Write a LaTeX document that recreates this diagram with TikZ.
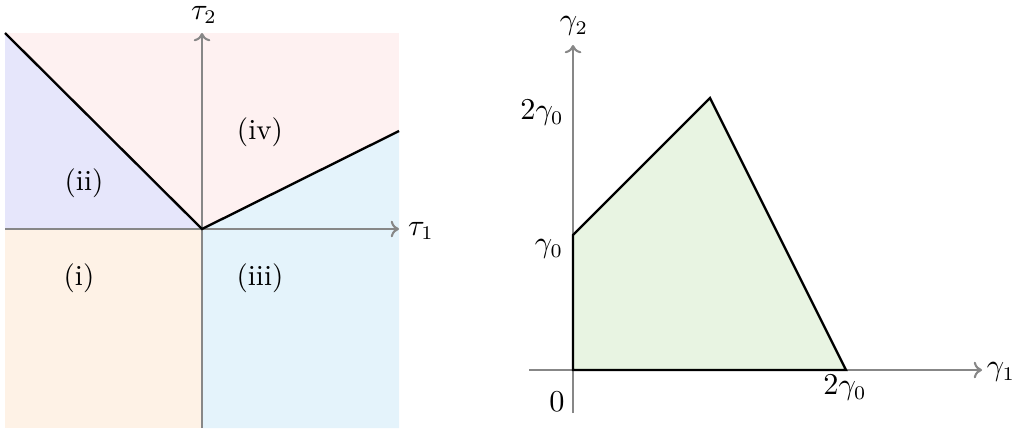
\documentclass[tikz,border=0pt]{standalone}
\usetikzlibrary{arrows.meta}
\definecolor{regi}{RGB}{254,242,230}
\definecolor{regii}{RGB}{230,230,251}
\definecolor{regiii}{RGB}{228,243,251}
\definecolor{regiv}{RGB}{254,241,241}
\definecolor{feas}{RGB}{232,244,226}
\definecolor{axgray}{RGB}{135,135,135}
\tikzset{
  axis/.style={draw=axgray, line width=0.75pt, -{To[length=3pt,width=6pt]}},
  bound/.style={draw=black, line width=0.85pt},
  lbl/.style={inner sep=0pt, font=\fontsize{10.5}{12}\selectfont},
}
\begin{document}
\begin{tikzpicture}[x=0.01269cm, y=-0.01269cm]
\useasboundingbox (0,0) rectangle (1020,428);
% left panel regions
\fill[regiv] (5,33) rectangle (399,229);
\fill[regii] (5,33) -- (202,229) -- (5,229) -- cycle;
\fill[regi] (5,229) rectangle (202,428);
\fill[regiii] (202,229) -- (399,131) -- (399,428) -- (202,428) -- cycle;
% axes
\coordinate (o) at (202,229);
\coordinate (xl) at (5,229);
\coordinate (xr) at (399,229);
\coordinate (yb) at (202,428);
\coordinate (yt) at (202,33);
\draw[axis] (xl) -- (xr);
\draw[axis] (yb) -- (yt);
\node[lbl] (tau1) at (421,231) {$\tau_1$};
\node[lbl] (tau2) at (204,15) {$\tau_2$};
% boundaries
\coordinate (tl) at (5,33);
\coordinate (rr) at (399,131);
\draw[bound] (tl) -- (o) -- (rr);
% region labels
\node[lbl] (ii) at (84,183) {(ii)};
\node[lbl] (iv) at (260,132) {(iv)};
\node[lbl] (i) at (79,278) {(i)};
\node[lbl] (iii) at (260,278) {(iii)};
% right panel
\coordinate (O) at (573,370);
\coordinate (A) at (573,235);
\coordinate (B) at (710,98);
\coordinate (C) at (846,370);
\fill[feas] (O) -- (A) -- (B) -- (C) -- cycle;
\coordinate (gxl) at (529,370);
\coordinate (gxr) at (982,370);
\coordinate (gyb) at (573,413);
\coordinate (gyt) at (573,45);
\draw[axis] (gxl) -- (gxr);
\draw[axis] (gyb) -- (gyt);
\draw[bound] (O) -- (A) -- (B) -- (C) -- cycle;
\node[lbl] (g1) at (1001,372) {$\gamma_1$};
\node[lbl] (g2) at (574,26) {$\gamma_2$};
\node[lbl] (l2g) at (542,113) {$2\gamma_0$};
\node[lbl] (lg) at (549,249) {$\gamma_0$};
\node[lbl] (l0) at (557,402) {$0$};
\node[lbl] (l2gx) at (845,388) {$2\gamma_0$};
\end{tikzpicture}
\end{document}
